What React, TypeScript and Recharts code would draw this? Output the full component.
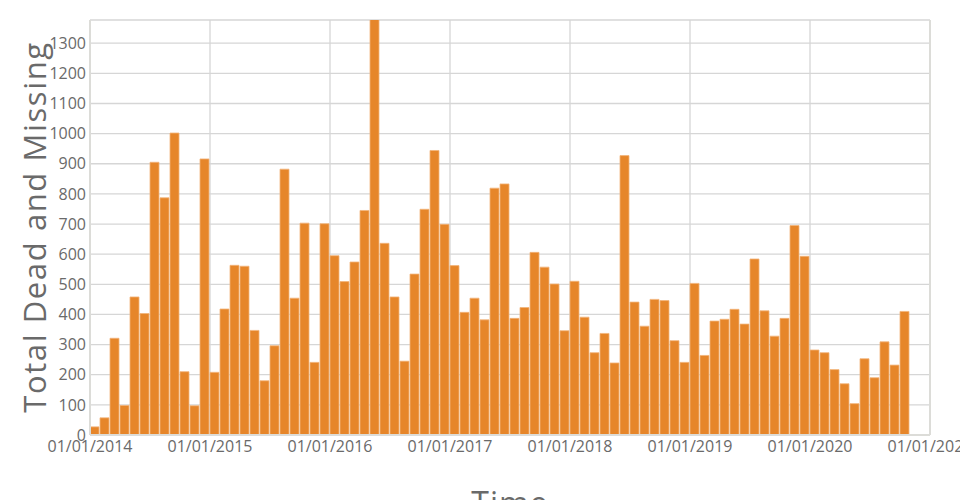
import React from "react";
import {
  BarChart,
  Bar,
  XAxis,
  YAxis,
  CartesianGrid,
  Label,
  ReferenceLine,
} from "recharts";

// monthly totals, Jan 2014 .. Oct 2020
const startYear = 2014;
const deadMissing = [
  27, 57, 321, 98, 458, 403, 905, 787, 1002, 210, 97, 916,
  208, 418, 563, 560, 347, 180, 296, 882, 454, 703, 241, 701,
  595, 509, 574, 745, 1400, 636, 458, 245, 534, 749, 944, 699,
  562, 407, 454, 382, 819, 833, 387, 423, 606, 557, 501, 346,
  510, 391, 273, 337, 239, 927, 441, 361, 450, 446, 313, 241,
  503, 264, 378, 384, 417, 368, 584, 412, 328, 387, 695, 593,
  282, 273, 217, 170, 104, 253, 190, 309, 232, 410,
];
const yTicks = [0, 100, 200, 300, 400, 500, 600, 700, 800, 900, 1000, 1100, 1200, 1300];
const yearTicks = [0, 12, 24, 36, 48, 60, 72, 84];

const data = deadMissing.map((v, i) => ({ month: i + 0.5, total: v }));

const FONT = "'Open Sans', sans-serif";
const TEXT = "#6a6a6a";

const fmtYear = (m: number) => `01/01/${startYear + Math.round(m / 12)}`;

export default function App() {
  return (
    <div style={{ position: "absolute", left: 0, top: 0, background: "#fff" }}>
      <BarChart
        width={960}
        height={500}
        data={data}
        margin={{ top: 20, right: 30, left: 0, bottom: 0 }}
        barCategoryGap={0}
        barGap={0}
      >
        <CartesianGrid stroke="#d6d6d6" strokeWidth={1.3} />
        <XAxis
          dataKey="month"
          type="number"
          domain={[0, 84]}
          ticks={yearTicks}
          tickFormatter={fmtYear}
          height={65}
          tickSize={0}
          tickMargin={6}
          axisLine={{ stroke: "#dcdcd8", strokeWidth: 2 }}
          tick={{ fill: TEXT, fontSize: 16, fontFamily: FONT }}
          interval={0}
          allowDataOverflow
        >
          <Label
            content={() => (
              <text
                x={510}
                y={515}
                textAnchor="middle"
                fill={TEXT}
                fontSize={32}
                fontFamily={FONT}
                letterSpacing={1}
              >
                Time
              </text>
            )}
          />
        </XAxis>
        <YAxis
          type="number"
          domain={[0, 1377]}
          ticks={yTicks}
          width={90}
          tickSize={0}
          tickMargin={4}
          allowDataOverflow
          axisLine={{ stroke: "#dcdcd8", strokeWidth: 2 }}
          tick={{ fill: TEXT, fontSize: 16, fontFamily: FONT }}
          interval={0}
        >
          <Label
            content={() => (
              <text
                transform="translate(46,227) rotate(-90)"
                textAnchor="middle"
                fill={TEXT}
                fontSize={31}
                fontFamily={FONT}
                letterSpacing={1.6}
              >
                Total Dead and Missing
              </text>
            )}
          />
        </YAxis>
        <ReferenceLine x={84} stroke="#dcdcd8" strokeWidth={2} />
        <Bar
          dataKey="total"
          fill="#e6862a"
          stroke="#f3b47a"
          strokeWidth={0.8}
          barSize={10}
          isAnimationActive={false}
        />
      </BarChart>
    </div>
  );
}
